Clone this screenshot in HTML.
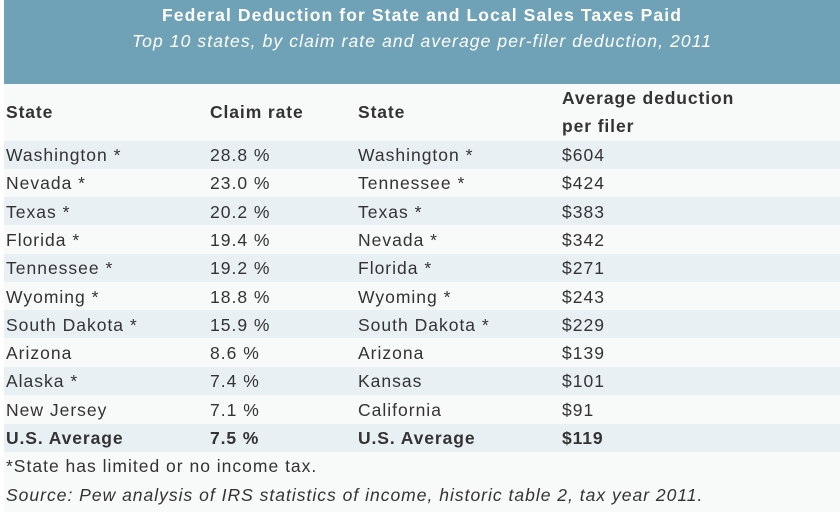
<!DOCTYPE html>
<html><head><style>
body{margin:0;width:840px;height:512px;background:#fff;font-family:"Liberation Sans",sans-serif;color:#333;position:relative;overflow:hidden}
#bg{position:absolute;left:4px;top:0;width:836px;height:512px;background:#f8f9f9}
#band{position:absolute;left:4px;top:0;width:836px;height:84px;background:#6fa2b6;color:#fff;text-align:center}
.t1{position:absolute;top:5px;width:100%;font-weight:bold;font-size:17.5px;letter-spacing:1.1px}
.t2{position:absolute;top:31px;width:100%;font-style:italic;font-size:17.5px;letter-spacing:1.1px}
.row{position:absolute;left:4px;width:836px;height:28px}
.s{background:#e9f0f4}
.c{position:absolute;font-size:17.5px;letter-spacing:1px;white-space:nowrap;line-height:28px}
.b{font-weight:bold;letter-spacing:0.9px}
</style></head><body>
<div id="bg"></div>
<div id="band"><div class="t1">Federal Deduction for State and Local Sales Taxes Paid</div><div class="t2">Top 10 states, by claim rate and average per-filer deduction, 2011</div></div>

<div class="c b" style="left:6px;top:98px">State</div>
<div class="c b" style="left:210px;top:98px">Claim rate</div>
<div class="c b" style="left:358px;top:98px">State</div>
<div class="c b" style="left:562px;top:84px">Average deduction</div>
<div class="c b" style="left:562px;top:112px">per filer</div>

<div class="row s" style="top:141px"></div>
<div class="row s" style="top:197px"></div>
<div class="row s" style="top:254px"></div>
<div class="row s" style="top:310px"></div>
<div class="row s" style="top:367px"></div>
<div class="row s" style="top:424px"></div>

<div style="position:absolute;left:0;top:141px">
<div class="c" style="left:6px;top:0">Washington *</div><div class="c" style="left:210px;top:0">28.8 %</div><div class="c" style="left:358px;top:0">Washington *</div><div class="c" style="left:562px;top:0">$604</div>
<div class="c" style="left:6px;top:28.3px">Nevada *</div><div class="c" style="left:210px;top:28.3px">23.0 %</div><div class="c" style="left:358px;top:28.3px">Tennessee *</div><div class="c" style="left:562px;top:28.3px">$424</div>
<div class="c" style="left:6px;top:56.6px">Texas *</div><div class="c" style="left:210px;top:56.6px">20.2 %</div><div class="c" style="left:358px;top:56.6px">Texas *</div><div class="c" style="left:562px;top:56.6px">$383</div>
<div class="c" style="left:6px;top:84.9px">Florida *</div><div class="c" style="left:210px;top:84.9px">19.4 %</div><div class="c" style="left:358px;top:84.9px">Nevada *</div><div class="c" style="left:562px;top:84.9px">$342</div>
<div class="c" style="left:6px;top:113.2px">Tennessee *</div><div class="c" style="left:210px;top:113.2px">19.2 %</div><div class="c" style="left:358px;top:113.2px">Florida *</div><div class="c" style="left:562px;top:113.2px">$271</div>
<div class="c" style="left:6px;top:141.5px">Wyoming *</div><div class="c" style="left:210px;top:141.5px">18.8 %</div><div class="c" style="left:358px;top:141.5px">Wyoming *</div><div class="c" style="left:562px;top:141.5px">$243</div>
<div class="c" style="left:6px;top:169.8px">South Dakota *</div><div class="c" style="left:210px;top:169.8px">15.9 %</div><div class="c" style="left:358px;top:169.8px">South Dakota *</div><div class="c" style="left:562px;top:169.8px">$229</div>
<div class="c" style="left:6px;top:198.1px">Arizona</div><div class="c" style="left:210px;top:198.1px">8.6 %</div><div class="c" style="left:358px;top:198.1px">Arizona</div><div class="c" style="left:562px;top:198.1px">$139</div>
<div class="c" style="left:6px;top:226.4px">Alaska *</div><div class="c" style="left:210px;top:226.4px">7.4 %</div><div class="c" style="left:358px;top:226.4px">Kansas</div><div class="c" style="left:562px;top:226.4px">$101</div>
<div class="c" style="left:6px;top:254.7px">New Jersey</div><div class="c" style="left:210px;top:254.7px">7.1 %</div><div class="c" style="left:358px;top:254.7px">California</div><div class="c" style="left:562px;top:254.7px">$91</div>
<div class="c b" style="left:6px;top:283px">U.S. Average</div><div class="c b" style="left:210px;top:283px">7.5 %</div><div class="c b" style="left:358px;top:283px">U.S. Average</div><div class="c b" style="left:562px;top:283px">$119</div>
</div>

<div class="c" style="left:6px;top:452px">*State has limited or no income tax.</div>
<div class="c" style="left:6px;top:481px;font-style:italic">Source: Pew analysis of IRS statistics of income, historic table 2, tax year 2011.</div>
</body></html>
